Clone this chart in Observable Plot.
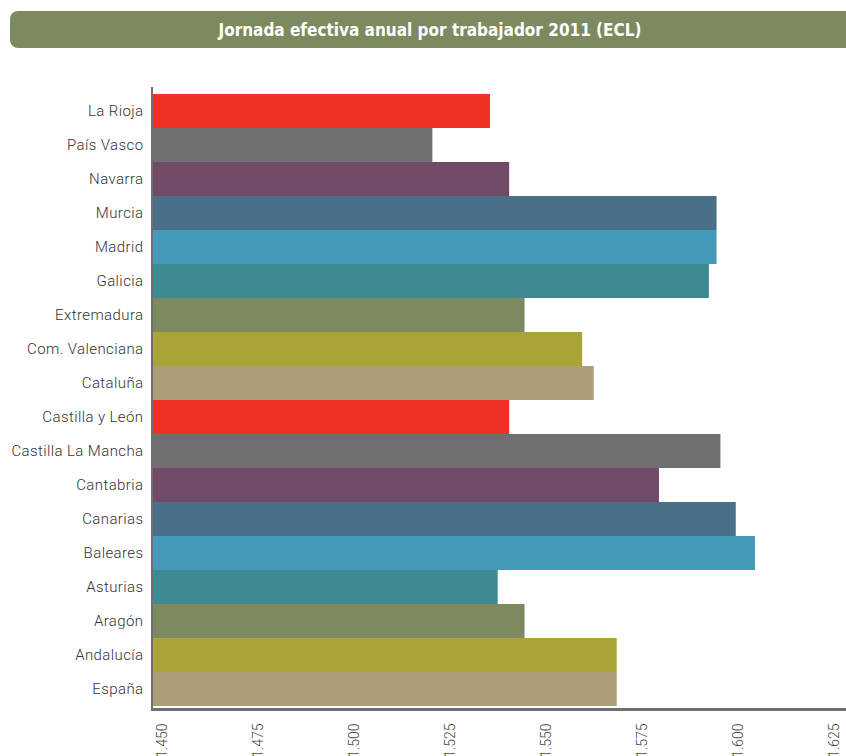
<!DOCTYPE html>
<html>
<head>
<meta charset="utf-8">
<script src="https://cdn.jsdelivr.net/npm/d3@7"></script>
<script src="https://cdn.jsdelivr.net/npm/@observablehq/plot@0.6"></script>
<style>
  html, body { margin: 0; padding: 0; background: #fff; }
  #wrap { position: relative; width: 846px; height: 756px; overflow: hidden; }
  #banner {
    position: absolute; left: 10px; top: 11px; width: 850px; height: 37px;
    background: #7d8a5f; border-radius: 8px;
  }
  #title {
    position: absolute; left: 0; top: 12px; width: 860px; height: 37px; line-height: 37px;
    text-align: center; color: #fff; font-family: "DejaVu Sans Condensed", "DejaVu Sans", sans-serif;
    font-weight: bold; font-size: 17px;
  }
  #chart { position: absolute; left: 0; top: 60px; }
  #chart text { letter-spacing: 0.4px; }
  #chart g[aria-label="x-axis tick label"] text { letter-spacing: 0; }
</style>
</head>
<body>
<div id="wrap">
  <div id="banner"></div>
  <div id="title">Jornada efectiva anual por trabajador 2011 (ECL)</div>
  <div id="chart"></div>
</div>
<script>
const regions = ["La Rioja","País Vasco","Navarra","Murcia","Madrid","Galicia","Extremadura","Com. Valenciana","Cataluña","Castilla y León","Castilla La Mancha","Cantabria","Canarias","Baleares","Asturias","Aragón","Andalucía","España"];
const hours = [1538,1523,1543,1597,1597,1595,1547,1562,1565,1543,1598,1582,1602,1607,1540,1547,1571,1571];
const palette = ["#ee3124","#706d73","#714a68","#4a6f89","#449ab8","#3d8a93","#7d8a5f","#aaa337","#aa9e76"];
const xTicks = [1450,1475,1500,1525,1550,1575,1600,1625];
const xDomain = [1450, 1630.7];

const data = regions.map((r, i) => ({region: r, hours: hours[i], color: palette[i % palette.length]}));
const fmt = d3.formatLocale({decimal: ",", thousands: ".", grouping: [3], currency: ["", "€"]}).format(",");

const chart = Plot.plot({
  width: 846,
  height: 696,
  marginLeft: 152,
  marginRight: 0,
  marginTop: 33,
  marginBottom: 49,
  style: {fontFamily: "Roboto, sans-serif", fontSize: "15px", color: "#444", background: "transparent"},
  x: {domain: xDomain},
  y: {domain: regions, padding: 0},
  color: {type: "identity"},
  marks: [
    Plot.barX(data, {y: "region", x: "hours", fill: "color", clip: true}),
    Plot.axisY({tickSize: 0, tickPadding: 9, label: null, fontSize: 15, fontWeight: 300, fill: "#333"}),
    Plot.axisX({ticks: xTicks, tickFormat: fmt, tickSize: 0, tickPadding: 16, tickRotate: -90, label: null, fontSize: 14, fontWeight: 300, fill: "#444", dx: 10})
  ]
});
document.getElementById("chart").appendChild(chart);

// axis lines
const svg = d3.select(chart);
svg.append("line").attr("x1", 152).attr("x2", 152).attr("y1", 27).attr("y2", 651).attr("stroke", "#716d73").attr("stroke-width", 2);
svg.append("line").attr("x1", 151).attr("x2", 846).attr("y1", 649.5).attr("y2", 649.5).attr("stroke", "#716d73").attr("stroke-width", 3);
</script>
</body>
</html>
